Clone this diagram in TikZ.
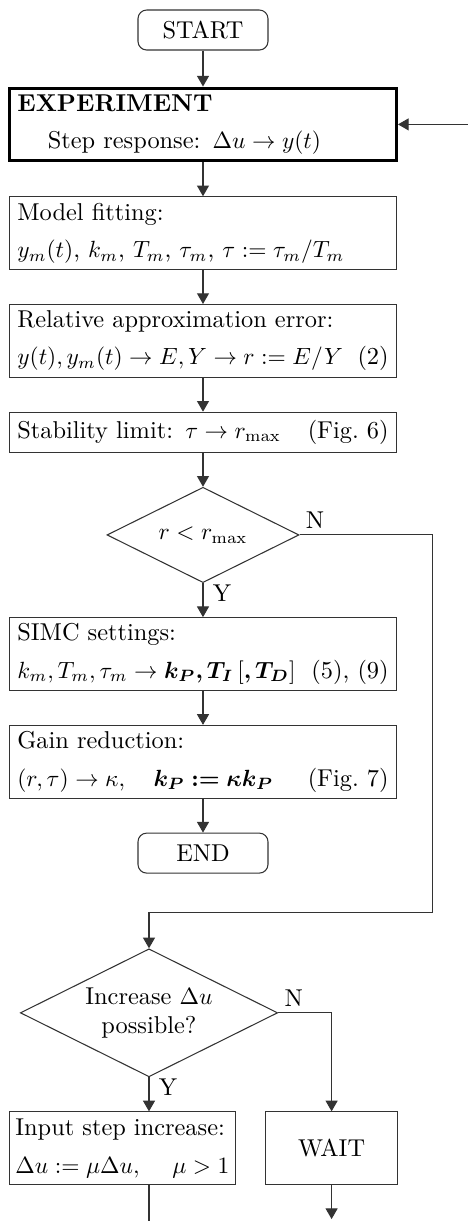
\documentclass[tikz,border=0pt]{standalone}
\usepackage{amsmath,amssymb,bm}
\usepackage{tikz}
\usetikzlibrary{arrows.meta,positioning,shapes.geometric}
\usepackage{xcolor}

\begin{document}
\begin{tikzpicture}[
  font=\fontsize{10.4}{12.5}\selectfont,
  node distance=5.1mm,
  wire/.style={draw=black!80, line width=0.45pt},
  box/.style={wire, rectangle, minimum height=10.9mm, text width=55.7mm, align=left, inner xsep=3.33pt, inner ysep=0.5pt},
  term/.style={wire, rounded corners=1.3mm, minimum width=19.5mm, minimum height=6mm, inner ysep=0.5pt, align=center},
  decision/.style={wire, diamond, aspect=2, inner sep=0pt, align=center},
  arrow/.style={wire, -{Triangle[length=1.6mm,width=1.8mm]}}
]
\useasboundingbox (-30.45mm,4.5mm) rectangle (39.6mm,-178.65mm);
\node[term] (start) at (0,0) {START};
\node[box, below=5.4mm of start, draw=black, line width=1.3pt] (exp) {\textbf{EXPERIMENT}\\[3.5pt]\hspace*{13pt}Step response: $\Delta u \to y(t)$};
\node[box, below=of exp] (fit) {Model fitting:\\[3.5pt]$y_m(t)$, $k_m$, $T_m$, $\tau_m$, $\tau := \tau_m/T_m$};
\node[box, below=of fit] (err) {Relative approximation error:\\[3.5pt]$y(t), y_m(t) \to E, Y \to r := E/Y$\hfill(2)};
\node[box, below=of err, minimum height=6mm] (stab) {Stability limit: $\tau \to r_{\max}$\hfill(Fig.~6)};
\node[decision, below=of stab, minimum width=28.8mm, minimum height=14.3mm] (check) {$r < r_{\max}$};
\node[box, below=of check] (simc) {SIMC settings:\\[3.5pt]$k_m, T_m, \tau_m \to \bm{k_P, T_I}\,[\bm{, T_D}]$\hfill(5), (9)};
\node[box, below=of simc] (gain) {Gain reduction:\\[3.5pt]$(r,\tau) \to \kappa, \quad \bm{k_P := \kappa k_P}$\hfill(Fig.~7)};
\node[term, below=of gain] (end) {END};
\node[decision, below=11.2mm of end, xshift=-8.1mm, minimum width=38.6mm, minimum height=19.2mm] (more) {Increase $\Delta u$\\possible?};
\coordinate (ia) at (more.south -| simc.west);
\node[box, below right=5.1mm and 0mm of ia, text width=32.1mm, inner xsep=2.5pt] (raise) {\mbox{Input step increase:}\\[3.5pt]$\Delta u := \mu\Delta u,$\hfill$\mu > 1$};
\node[box, right=4.4mm of raise, text width=17.45mm, align=center] (wait) {WAIT};
\coordinate[right=10.5mm of exp.east] (retry);
\coordinate[right=19.95mm of check.east] (turn);
\coordinate[above=5.4mm of more.north] (join);
\coordinate[below=6mm of raise] (exit);
\coordinate[below=5.1mm of wait] (hold);
\draw[arrow] (start) -- (exp);
\draw[arrow] (retry) -- (exp);
\draw[arrow] (exp) -- (fit);
\draw[arrow] (fit) -- (err);
\draw[arrow] (err) -- (stab);
\draw[arrow] (stab) -- (check);
\draw[arrow] (check) -- node[pos=0.3, right, inner sep=4pt] {Y} (simc);
\draw[arrow] (check.east) node[above right, inner sep=2.5pt] {N} -- (turn) |- (join) -- (more.north);
\draw[arrow] (simc) -- (gain);
\draw[arrow] (gain) -- (end);
\draw[arrow] (more.south) -- node[pos=0.3, right, inner sep=4pt] {Y} (more.south |- raise.north);
\draw[arrow] (more.east) node[above right, inner sep=2.5pt] {N} -| (wait.north);
\draw[wire] (more.south |- raise.south) -- (more.south |- exit);
\draw[arrow] (wait) -- (hold);
\end{tikzpicture}
\end{document}
